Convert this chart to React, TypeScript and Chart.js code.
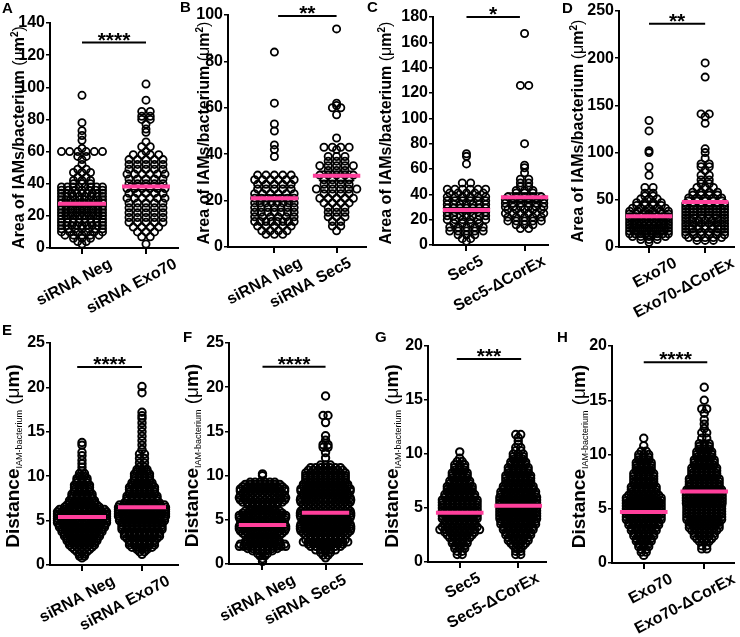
import React, { useEffect, useRef } from "react";
import { Chart, registerables } from "chart.js";
Chart.register(...registerables);

type Row = [number, number]; // [value, number of points at that value]

// ---------------- DATA ----------------
// Panel A
const A_categories = ["siRNA Neg", "siRNA Exo70"];
const A_neg: Row[] = [[95,1],[78,1],[73,1],[70,1],[67,1],[62,1],[60,6],[57,2],[55,1],[52,1],[49,2],[47,3],[44,2],[42,3],[40,3],[38,8],[36,7],[34,9],[32,8],[30,10],[28,10],[26,9],[24,10],[22,9],[20,10],[18,8],[16,8],[14,9],[12,7],[10,6],[8,5],[6,3],[4,2],[2.5,1]];
const A_exo70: Row[] = [[102,1],[92,1],[85,2],[82,2],[80,2],[77,1],[74,1],[72,1],[66,1],[63,2],[60,1],[58,4],[55,5],[52,5],[49,5],[46,6],[43,5],[40,5],[37,6],[34,5],[31,6],[28,5],[25,5],[22,5],[19,5],[16,5],[13,4],[10,3],[7,2],[2.5,1]];
const A_means = [27.5, 38.2];
const A_sems = [1.2, 2.0];
const A_yTicks = [0, 20, 40, 60, 80, 100, 120, 140];
const A_stars = "****";
const A_sigY = 127.8;

// Panel B
const B_categories = ["siRNA Neg", "siRNA Sec5"];
const B_neg: Row[] = [[84,1],[62,1],[53,1],[50,1],[44,1],[42,1],[39,1],[31,5],[29,6],[27,5],[25,5],[23,6],[21,7],[19,8],[17,7],[15,7],[13,6],[11,8],[9,5],[7,4],[5.5,3]];
const B_sec5: Row[] = [[94,1],[62,1],[61,1],[60,2],[57,1],[47,1],[43,4],[42,1],[39,3],[37,3],[35,5],[33,3],[31,5],[29,4],[27,4],[25,6],[23,4],[21,5],[19,4],[17,3],[15,3],[13,3],[11,2],[9,2],[7,1]];
const B_means = [21, 30.7];
const B_sems = [1.4, 2.0];
const B_yTicks = [0, 20, 40, 60, 80, 100];
const B_stars = "**";
const B_sigY = 99.6;

// Panel C
const C_categories = ["Sec5", "Sec5-ΔCorEx"];
const C_sec5: Row[] = [[72,1],[70,1],[64,1],[49,2],[44,6],[41,5],[38,6],[35,6],[32,7],[29,7],[26,6],[23,7],[20,6],[17,4],[14,5],[11,5],[8,3],[5,2],[3,1]];
const C_corex: Row[] = [[167,1],[126,2],[80,1],[63,1],[61,1],[57,1],[52,2],[49,2],[46,2],[43,3],[41,3],[38,5],[36,6],[33,6],[30,6],[28,5],[25,6],[22,5],[19,5],[16,3],[13,2]];
const C_means = [27.6, 37.6];
const C_sems = [2.0, 3.5];
const C_yTicks = [0, 20, 40, 60, 80, 100, 120, 140, 160, 180];
const C_stars = "*";
const C_sigY = 180;

// Panel D
const D_categories = ["Exo70", "Exo70-ΔCorEx"];
const D_exo70: Row[] = [[134,1],[123,1],[102,1],[100,1],[85,1],[76,1],[63,2],[57,2],[54,2],[51,3],[47,4],[44,4],[41,5],[38,6],[35,7],[32,8],[29,8],[26,9],[23,9],[20,10],[17,10],[14,8],[11,5],[8,3],[5,1]];
const D_corex: Row[] = [[195,1],[180,1],[141,2],[138,1],[131,1],[104,1],[100,1],[94,1],[88,2],[85,2],[81,1],[76,2],[71,2],[67,2],[63,3],[58,4],[55,4],[52,5],[49,5],[46,6],[43,6],[40,6],[37,6],[34,6],[31,6],[28,7],[25,6],[22,7],[19,7],[16,6],[13,6],[10,5],[7,3]];
const D_means = [32.7, 47.8];
const D_sems = [3.0, 4.5];
const D_yTicks = [0, 50, 100, 150, 200, 250];
const D_stars = "**";
const D_sigY = 236.5;

// Panel E
const E_categories = ["siRNA Neg", "siRNA Exo70"];
const E_neg: Row[] = [[0.8,1],[1,2],[1.25,2],[1.5,3],[1.75,4],[2,5],[2.25,6],[2.5,6],[2.75,7],[3,7],[3.25,8],[3.5,8],[3.75,9],[4,9],[4.25,10],[4.5,10],[4.75,11],[5,12],[5.25,13],[5.5,14],[5.75,14],[6,12],[6.25,10],[6.5,8],[6.75,7],[7,6],[7.25,6],[7.5,5],[7.75,5],[8,5],[8.25,4],[8.5,4],[8.75,4],[9,4],[9.25,3],[9.5,3],[9.75,3],[10,2],[10.3,2],[10.6,1],[11,1],[11.4,1],[11.8,1],[12.3,1],[12.7,1],[13.5,1],[13.8,1]];
const E_exo70: Row[] = [[1.2,1],[1.5,2],[1.75,3],[2,5],[2.25,6],[2.5,6],[2.75,6],[3,7],[3.25,8],[3.5,8],[3.75,8],[4,9],[4.25,9],[4.5,9],[4.75,9],[5,10],[5.25,10],[5.5,11],[5.75,11],[6,12],[6.25,13],[6.5,13],[6.75,10],[7,8],[7.25,7],[7.5,7],[7.75,7],[8,6],[8.25,6],[8.5,6],[8.75,6],[9,5],[9.25,5],[9.5,4],[9.75,4],[10,4],[10.25,4],[10.5,3],[10.75,3],[11,2],[11.5,2],[12,2],[12.5,2],[13,1],[13.5,1],[14,1],[14.5,1],[15,1],[15.5,1],[16,1],[16.5,1],[16.8,1],[17.2,1],[19.4,1],[20.1,1]];
const E_means = [5.4, 6.5];
const E_sems = [0.1, 0.15];
const E_yTicks = [0, 5, 10, 15, 20, 25];
const E_stars = "****";
const E_sigY = 22.3;

// Panel F
const F_categories = ["siRNA Neg", "siRNA Sec5"];
const F_neg: Row[] = [[0.3,1],[0.6,1],[0.9,2],[1.2,3],[1.5,5],[1.75,7],[2,11],[2.25,10],[2.5,8],[2.75,7],[3,6],[3.25,8],[3.5,9],[3.75,10],[4,11],[4.25,11],[4.5,10],[4.75,9],[5,10],[5.25,11],[5.5,11],[5.75,9],[6,8],[6.25,6],[6.5,5],[6.75,7],[7,9],[7.25,10],[7.5,11],[7.75,10],[8,9],[8.25,10],[8.5,10],[8.75,9],[9,8],[9.25,6],[10,1],[10.2,1]];
const F_sec5: Row[] = [[0.7,1],[1,2],[1.3,3],[1.6,5],[2,7],[2.25,8],[2.5,10],[2.75,9],[3,7],[3.25,9],[3.5,10],[3.75,11],[4,12],[4.25,12],[4.5,11],[4.75,10],[5,10],[5.25,11],[5.5,12],[5.75,12],[6,11],[6.25,10],[6.5,9],[6.75,10],[7,11],[7.25,12],[7.5,11],[7.75,10],[8,10],[8.25,11],[8.5,11],[8.75,10],[9,10],[9.25,9],[9.5,9],[9.75,9],[10,9],[10.3,9],[10.6,8],[10.9,7],[11.2,3],[12,1],[12.6,1],[13.2,2],[13.5,2],[14,1],[14.5,1],[16,1],[16.8,2],[19,1]];
const F_means = [4.4, 5.8];
const F_sems = [0.12, 0.2];
const F_yTicks = [0, 5, 10, 15, 20, 25];
const F_stars = "****";
const F_sigY = 22.3;

// Panel G
const G_categories = ["Sec5", "Sec5-ΔCorEx"];
const G_sec5: Row[] = [[0.7,2],[1,2],[1.25,3],[1.5,3],[1.75,4],[2,4],[2.25,5],[2.5,6],[2.75,7],[3,9],[3.25,8],[3.5,7],[3.75,7],[4,8],[4.25,8],[4.5,8],[4.75,8],[5,8],[5.25,8],[5.5,8],[5.75,8],[6,7],[6.25,7],[6.5,6],[6.75,6],[7,6],[7.25,5],[7.5,5],[7.75,4],[8,4],[8.25,4],[8.5,3],[8.75,3],[9,3],[9.3,2],[9.6,1],[10.2,1]];
const G_corex: Row[] = [[0.7,2],[1,2],[1.25,2],[1.5,3],[1.75,4],[2,5],[2.25,5],[2.5,6],[2.75,6],[3,7],[3.25,7],[3.5,8],[3.75,8],[4,9],[4.25,9],[4.5,10],[4.75,10],[5,10],[5.25,10],[5.5,9],[5.75,9],[6,9],[6.25,8],[6.5,8],[6.75,7],[7,7],[7.25,6],[7.5,6],[7.75,6],[8,6],[8.25,5],[8.5,5],[8.75,5],[9,4],[9.25,4],[9.5,3],[9.75,3],[10,3],[10.3,2],[10.6,2],[10.9,1],[11.2,1],[11.5,1],[11.8,2]];
const G_means = [4.55, 5.2];
const G_sems = [0.1, 0.12];
const G_yTicks = [0, 5, 10, 15, 20];
const G_stars = "***";
const G_sigY = 18.8;

// Panel H
const H_categories = ["Exo70", "Exo70-ΔCorEx"];
const H_exo70: Row[] = [[0.7,1],[1,2],[1.25,2],[1.5,3],[1.75,3],[2,4],[2.25,4],[2.5,5],[2.75,5],[3,6],[3.25,6],[3.5,7],[3.75,7],[4,8],[4.25,8],[4.5,9],[4.75,9],[5,9],[5.25,10],[5.5,10],[5.75,10],[6,9],[6.25,7],[6.5,6],[6.75,6],[7,6],[7.25,5],[7.5,5],[7.75,5],[8,5],[8.25,5],[8.5,4],[8.75,4],[9,4],[9.25,4],[9.5,3],[9.75,3],[10,3],[10.3,2],[10.8,1],[11.5,1]];
const H_corex: Row[] = [[1.3,2],[1.6,2],[2,3],[2.25,4],[2.5,5],[2.75,5],[3,6],[3.25,7],[3.5,7],[3.75,7],[4,8],[4.25,8],[4.5,8],[4.75,8],[5,8],[5.25,8],[5.5,9],[5.75,9],[6,10],[6.25,10],[6.5,9],[6.75,8],[7,7],[7.25,7],[7.5,7],[7.75,7],[8,6],[8.25,6],[8.5,6],[8.75,6],[9,5],[9.25,5],[9.5,5],[9.75,4],[10,4],[10.25,4],[10.5,3],[10.75,3],[11,3],[11.5,2],[12,2],[12.4,1],[12.8,1],[13.2,1],[13.8,1],[14.2,2],[15,1],[16.2,1]];
const H_means = [4.7, 6.6];
const H_sems = [0.1, 0.15];
const H_yTicks = [0, 5, 10, 15, 20];
const H_stars = "****";
const H_sigY = 18.5;

// ---------------- STYLE / LAYOUT ----------------
const FONT = '"Liberation Sans", Arial, Helvetica, sans-serif';
const PINK = "#ff3f9b";
const MEAN_HALF_PX = 24;
const CAP_HALF_PX = 18;
const LABEL_ROT = (28 * Math.PI) / 180;

type Part = { t: string; size: number; bold: boolean; dy?: number };
const AREA_TITLE: Part[] = [
  { t: "Area of IAMs/bacterium ", size: 16, bold: true },
  { t: "(", size: 16, bold: false },
  { t: "μ", size: 16, bold: false },
  { t: "m", size: 16, bold: true },
  { t: "2", size: 10, bold: true, dy: -6 },
  { t: ")", size: 16, bold: false },
];
const DIST_TITLE: Part[] = [
  { t: "Distance", size: 19, bold: true },
  { t: "IAM-bacterium", size: 9, bold: false, dy: 3 },
  { t: " (", size: 19, bold: false },
  { t: "μ", size: 19, bold: false },
  { t: "m)", size: 19, bold: true },
];

interface Layout {
  box: [number, number, number, number];
  axisX: number; tick0: number; tick1: number; right: number; top: number; bottom: number;
  titleX: number; letter: [number, number]; maxHalf: [number, number]; sig: [number, number];
  gap: number; dot: [number, number]; labelDx: [number, number];
}

interface Spec {
  letter: string; cats: string[]; groups: Row[][]; means: number[]; sems: number[];
  yTicks: number[]; stars: string; sigY: number; title: Part[]; L: Layout;
}

const SPARSE_DOT: [number, number] = [3.6, 1.8];
const DENSE_DOT: [number, number] = [3.7, 2.0];

const SPECS: Spec[] = [
  { letter: "A", cats: A_categories, groups: [A_neg, A_exo70], means: A_means, sems: A_sems, yTicks: A_yTicks, stars: A_stars, sigY: A_sigY, title: AREA_TITLE,
    L: { box: [0, 0, 186, 318], axisX: 50, tick0: 82, tick1: 146, right: 178, top: 23, bottom: 248, titleX: 23.5, letter: [2, 13], maxHalf: [20.5, 19], sig: [0, 1], gap: 8.5, dot: SPARSE_DOT, labelDx: [25, 26] } },
  { letter: "B", cats: B_categories, groups: [B_neg, B_sec5], means: B_means, sems: B_sems, yTicks: B_yTicks, stars: B_stars, sigY: B_sigY, title: AREA_TITLE,
    L: { box: [176, 0, 196, 318], axisX: 228, tick0: 275, tick1: 338, right: 368, top: 15, bottom: 247, titleX: 208.5, letter: [180, 12], maxHalf: [20, 20.5], sig: [0.06, 1], gap: 8.5, dot: SPARSE_DOT, labelDx: [23, 10] } },
  { letter: "C", cats: C_categories, groups: [C_sec5, C_corex], means: C_means, sems: C_sems, yTicks: C_yTicks, stars: C_stars, sigY: C_sigY, title: AREA_TITLE,
    L: { box: [362, 0, 192, 318], axisX: 433, tick0: 467, tick1: 526, right: 550, top: 17, bottom: 245, titleX: 391, letter: [367, 12], maxHalf: [19.5, 19.5], sig: [0, 0.92], gap: 8.5, dot: SPARSE_DOT, labelDx: [12, 16] } },
  { letter: "D", cats: D_categories, groups: [D_exo70, D_corex], means: D_means, sems: D_sems, yTicks: D_yTicks, stars: D_stars, sigY: D_sigY, title: AREA_TITLE,
    L: { box: [548, 0, 192, 318], axisX: 619, tick0: 650, tick1: 708, right: 738, top: 11, bottom: 247, titleX: 582.5, letter: [562, 13], maxHalf: [20, 20], sig: [0, 1], gap: 8.5, dot: SPARSE_DOT, labelDx: [23, 24] } },
  { letter: "E", cats: E_categories, groups: [E_neg, E_exo70], means: E_means, sems: E_sems, yTicks: E_yTicks, stars: E_stars, sigY: E_sigY, title: DIST_TITLE,
    L: { box: [0, 318, 186, 319], axisX: 50, tick0: 82, tick1: 142, right: 178, top: 343, bottom: 565, titleX: 18.5, letter: [2, 335], maxHalf: [24.5, 23.5], sig: [-0.08, 1], gap: 5, dot: DENSE_DOT, labelDx: [28, 23] } },
  { letter: "F", cats: F_categories, groups: [F_neg, F_sec5], means: F_means, sems: F_sems, yTicks: F_yTicks, stars: F_stars, sigY: F_sigY, title: DIST_TITLE,
    L: { box: [176, 318, 192, 319], axisX: 229, tick0: 263, tick1: 327, right: 364, top: 343, bottom: 564, titleX: 198, letter: [183, 342], maxHalf: [23.5, 25.5], sig: [0, 1], gap: 5, dot: DENSE_DOT, labelDx: [28, 16] } },
  { letter: "G", cats: G_categories, groups: [G_sec5, G_corex], means: G_means, sems: G_sems, yTicks: G_yTicks, stars: G_stars, sigY: G_sigY, title: DIST_TITLE,
    L: { box: [362, 318, 190, 319], axisX: 428, tick0: 460, tick1: 519, right: 547, top: 346, bottom: 562, titleX: 398, letter: [375, 342], maxHalf: [20.5, 18.5], sig: [-0.05, 1.05], gap: 5, dot: DENSE_DOT, labelDx: [16, 16] } },
  { letter: "H", cats: H_categories, groups: [H_exo70, H_corex], means: H_means, sems: H_sems, yTicks: H_yTicks, stars: H_stars, sigY: H_sigY, title: DIST_TITLE,
    L: { box: [548, 318, 192, 319], axisX: 612, tick0: 644, tick1: 705, right: 735, top: 346, bottom: 563, titleX: 585, letter: [557, 342], maxHalf: [17.5, 18], sig: [0, 1.05], gap: 5, dot: DENSE_DOT, labelDx: [24, 26] } },
];

// Prism-like row layout: the points of one value row are spread horizontally around the category
function swarm(rows: Row[], center: number, maxHalfPx: number, catPx: number, gap: number) {
  const pts: { x: number; y: number }[] = [];
  for (const [v, n] of rows) {
    const s = n > 1 ? Math.min(gap, (2 * maxHalfPx) / (n - 1)) : 0;
    for (let i = 0; i < n; i++) pts.push({ x: center + ((i - (n - 1) / 2) * s) / catPx, y: v });
  }
  return pts;
}

function drawTitle(ctx: CanvasRenderingContext2D, parts: Part[], bx: number, cy: number) {
  ctx.save();
  ctx.translate(bx, cy);
  ctx.rotate(-Math.PI / 2);
  ctx.textAlign = "left";
  ctx.textBaseline = "alphabetic";
  ctx.fillStyle = "#000";
  let total = 0;
  const widths = parts.map((p) => {
    ctx.font = `${p.bold ? "bold " : ""}${p.size}px ${FONT}`;
    const w = ctx.measureText(p.t).width;
    total += w;
    return w;
  });
  let x = -total / 2;
  parts.forEach((p, i) => {
    ctx.font = `${p.bold ? "bold " : ""}${p.size}px ${FONT}`;
    ctx.fillText(p.t, x, p.dy || 0);
    x += widths[i];
  });
  ctx.restore();
}

function Panel({ spec }: { spec: Spec }) {
  const ref = useRef<HTMLCanvasElement>(null);
  useEffect(() => {
    const L = spec.L;
    const [bx, by, bw, bh] = L.box;
    const catPx = L.tick1 - L.tick0;
    const xMin = -(L.tick0 - L.axisX) / catPx;
    const xMax = 1 + (L.right - L.tick1) / catPx;
    const mh = MEAN_HALF_PX / catPx;
    const ch = CAP_HALF_PX / catPx;

    const datasets: any[] = [];
    spec.groups.forEach((rows, gi) => {
      datasets.push({
        data: swarm(rows, gi, L.maxHalf[gi], catPx, L.gap),
        showLine: false,
        pointRadius: L.dot[0],
        pointBorderWidth: L.dot[1],
        pointBorderColor: "#000",
        pointBackgroundColor: "rgba(0,0,0,0)",
        borderColor: "#000",
        backgroundColor: "rgba(0,0,0,0)",
        clip: false,
        order: 5,
      });
    });
    spec.means.forEach((m, gi) => {
      datasets.push({
        data: [{ x: gi - mh, y: m }, { x: gi + mh, y: m }],
        showLine: true, borderColor: PINK, borderWidth: 4, pointRadius: 0, order: 1, clip: false,
      });
      datasets.push({
        data: [
          { x: gi - ch, y: m + spec.sems[gi] }, { x: gi + ch, y: m + spec.sems[gi] }, { x: gi, y: null },
          { x: gi - ch, y: m - spec.sems[gi] }, { x: gi + ch, y: m - spec.sems[gi] },
        ],
        showLine: true, spanGaps: false, borderColor: "#000", borderWidth: 1.5, pointRadius: 0, order: 2, clip: false,
      });
    });
    datasets.push({
      data: [{ x: L.sig[0], y: spec.sigY }, { x: L.sig[1], y: spec.sigY }],
      showLine: true, borderColor: "#000", borderWidth: 2, pointRadius: 0, order: 1, clip: false,
    });

    const yT = spec.yTicks;
    const chart = new Chart(ref.current as HTMLCanvasElement, {
      type: "scatter",
      data: { datasets },
      options: {
        animation: false,
        responsive: false,
        devicePixelRatio: 1,
        events: [],
        layout: { padding: { left: 0, top: L.top - by, right: bx + bw - L.right, bottom: 0 } },
        plugins: { legend: { display: false }, tooltip: { enabled: false }, title: { display: false } },
        scales: {
          x: {
            type: "linear", min: xMin, max: xMax,
            afterBuildTicks: (s: any) => { s.ticks = [{ value: 0 }, { value: 1 }]; },
            afterFit: (s: any) => { s.height = by + bh - L.bottom; },
            ticks: { display: false },
            grid: { display: true, drawOnChartArea: false, drawTicks: true, tickLength: 6, color: "#000", lineWidth: 2 },
            border: { display: true, color: "#000", width: 2 },
          },
          y: {
            type: "linear", min: yT[0], max: yT[yT.length - 1],
            afterBuildTicks: (s: any) => { s.ticks = yT.map((v) => ({ value: v })); },
            afterFit: (s: any) => { s.width = L.axisX - bx; },
            ticks: { color: "#000", padding: 1, autoSkip: false, font: { family: FONT, size: 16, weight: "bold" } },
            grid: { display: true, drawOnChartArea: false, drawTicks: true, tickLength: 4, color: "#000", lineWidth: 1.5 },
            border: { display: true, color: "#000", width: 2 },
          },
        },
      } as any,
      plugins: [
        {
          id: "decor",
          afterDraw(c: any) {
            const ctx = c.ctx as CanvasRenderingContext2D;
            const xs = c.scales.x, ys = c.scales.y;
            ctx.save();
            ctx.fillStyle = "#000";
            // panel letter
            ctx.font = `bold 15px ${FONT}`;
            ctx.textAlign = "left";
            ctx.textBaseline = "alphabetic";
            ctx.fillText(spec.letter, L.letter[0] - bx, L.letter[1] - by);
            // significance stars
            const sy = ys.getPixelForValue(spec.sigY);
            const sx = (xs.getPixelForValue(L.sig[0]) + xs.getPixelForValue(L.sig[1])) / 2;
            ctx.font = `bold 21px ${FONT}`;
            ctx.textAlign = "center";
            ctx.fillText(spec.stars, sx, sy + 4);
            // rotated category labels
            ctx.font = `bold 16px ${FONT}`;
            ctx.textAlign = "right";
            ctx.textBaseline = "top";
            spec.cats.forEach((cat, i) => {
              const px = xs.getPixelForValue(i);
              ctx.save();
              ctx.translate(px + L.labelDx[i], c.chartArea.bottom + 8);
              ctx.rotate(-LABEL_ROT);
              ctx.fillText(cat, 0, 0);
              ctx.restore();
            });
            ctx.restore();
            // y-axis title
            drawTitle(ctx, spec.title, L.titleX - bx, (c.chartArea.top + c.chartArea.bottom) / 2 + 2);
          },
        },
      ],
    });
    return () => chart.destroy();
  }, [spec]);
  const [bx, by, bw, bh] = spec.L.box;
  return (
    <canvas
      ref={ref}
      width={bw}
      height={bh}
      style={{ position: "absolute", left: bx, top: by, width: bw, height: bh }}
    />
  );
}

export default function App() {
  return (
    <div style={{ position: "fixed", left: 0, top: 0, width: 740, height: 637, background: "#fff", overflow: "hidden" }}>
      {SPECS.map((s) => (
        <Panel key={s.letter} spec={s} />
      ))}
    </div>
  );
}
